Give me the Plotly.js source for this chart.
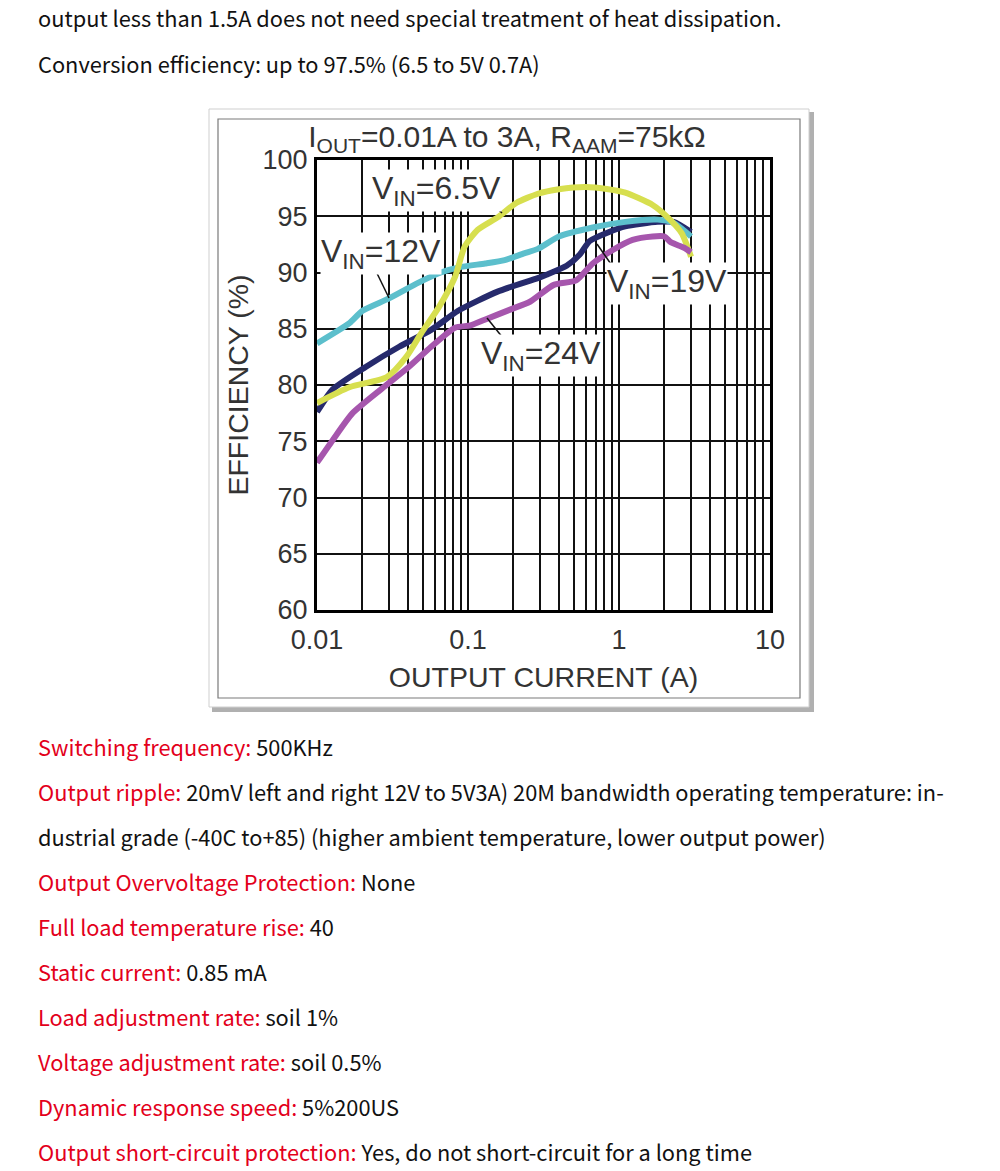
<!DOCTYPE html>
<html>
<head>
<meta charset="utf-8">
<script src="https://cdn.plot.ly/plotly-3.0.1.min.js"></script>
<style>
  html, body { margin: 0; padding: 0; background: #fff; }
  #chart { width: 1000px; height: 1171px; }
</style>
</head>
<body>
<div id="chart"></div>
<script>
// ---------- data ----------
const current65 = [0.01, 0.0164, 0.029, 0.039, 0.049, 0.064, 0.082, 0.095, 0.116, 0.157, 0.21, 0.29, 0.4, 0.6, 0.85, 1.1, 1.67, 2.1, 2.6, 3.0];
const eff65     = [78.4, 79.8, 80.7, 82.5, 84.6, 86.9, 89.6, 92.3, 93.8, 94.9, 96.2, 97.0, 97.4, 97.6, 97.4, 97.1, 96.0, 94.9, 93.5, 91.4];

const current12 = [0.01, 0.0164, 0.02, 0.03, 0.047, 0.066, 0.09, 0.13, 0.175, 0.235, 0.29, 0.4, 0.67, 1.1, 1.8, 2.3, 3.0];
const eff12     = [83.7, 85.5, 86.6, 87.7, 89.1, 90.0, 90.5, 90.8, 91.1, 91.7, 92.1, 93.2, 94.0, 94.5, 94.7, 94.4, 93.2];

const current19 = [0.01, 0.0127, 0.021, 0.035, 0.057, 0.086, 0.157, 0.29, 0.33, 0.45, 0.55, 0.64, 0.86, 1.1, 1.8, 2.3, 3.0];
const eff19     = [77.6, 79.6, 81.6, 83.4, 84.9, 86.6, 88.3, 89.5, 89.8, 90.6, 91.6, 92.8, 93.6, 94.1, 94.5, 94.5, 93.6];

const current24 = [0.01, 0.0127, 0.0172, 0.027, 0.0405, 0.057, 0.082, 0.104, 0.129, 0.19, 0.257, 0.37, 0.52, 0.67, 0.91, 1.23, 1.67, 2.0, 2.2, 2.7, 3.0];
const eff24     = [73.1, 75.1, 77.5, 79.7, 81.6, 83.4, 85.1, 85.3, 85.8, 86.7, 87.4, 88.9, 89.3, 90.8, 92.0, 92.9, 93.2, 93.2, 92.7, 92.2, 91.8];

const seriesNames = ["V<sub>IN</sub>=6.5V", "V<sub>IN</sub>=12V", "V<sub>IN</sub>=19V", "V<sub>IN</sub>=24V"];
const xTickValues = [0.01, 0.1, 1, 10];
const xTickLabels = ["0.01", "0.1", "1", "10"];
const yTickLabels = ["60", "65", "70", "75", "80", "85", "90", "95", "100"];

const topLines = [
  "output less than 1.5A does not need special treatment of heat dissipation.",
  "Conversion efficiency: up to 97.5% (6.5 to 5V 0.7A)"
];
const specLabels = [
  "Switching frequency:",
  "Output ripple:",
  "",
  "Output Overvoltage Protection:",
  "Full load temperature rise:",
  "Static current:",
  "Load adjustment rate:",
  "Voltage adjustment rate:",
  "Dynamic response speed:",
  "Output short-circuit protection:"
];
const specValues = [
  "500KHz",
  "20mV left and right 12V to 5V3A) 20M bandwidth operating temperature: in-",
  "dustrial grade (-40C to+85) (higher ambient temperature, lower output power)",
  "None",
  "40",
  "0.85 mA",
  "soil 1%",
  "soil 0.5%",
  "5%200US",
  "Yes, do not short-circuit for a long time"
];

// ---------- geometry helpers ----------
const W = 1000, H = 1171;
const PL = 317, PR = 770, PT = 160, PB = 610;
const px2x = p => (p - PL) / (PR - PL);
const px2y = p => (PB - p) / (PB - PT);

const FONT = "Liberation Sans, Arial, sans-serif";
const TEXTFONT = "Noto Sans CJK JP, Noto Sans, sans-serif";
const RED = '#e3001b';

// minor grid values 2..9 in each decade
const minorVals = [];
[0.01, 0.1, 1].forEach(dec => { for (let m = 2; m <= 9; m++) minorVals.push(dec * m); });

// ---------- traces ----------
const lw = 6;
const traces = [
  {x: current19, y: eff19, color: '#262a6c'},
  {x: current12, y: eff12, color: '#5cbfcc'},
  {x: current65, y: eff65, color: '#d7df4f'},
  {x: current24, y: eff24, color: '#a656ad'}
].map(t => ({
  x: t.x, y: t.y, type: 'scatter', mode: 'lines',
  line: {color: t.color, width: lw, shape: 'spline', smoothing: 0.6},
  hoverinfo: 'skip', showlegend: false
}));

// ---------- shapes ----------
function box(x0, y0, x1, y1, fill, lc, lwd) {
  return {type: 'rect', xref: 'paper', yref: 'paper', layer: 'below',
    x0: px2x(x0), x1: px2x(x1), y0: px2y(y1), y1: px2y(y0),
    fillcolor: fill, line: {color: lc, width: lwd}};
}
function seg(x0, y0, x1, y1) {
  return {type: 'line', xref: 'paper', yref: 'paper', layer: 'above',
    x0: px2x(x0), x1: px2x(x1), y0: px2y(y0), y1: px2y(y1),
    line: {color: '#111', width: 1.5}};
}
const shapes = [
  box(212, 112, 814, 712, '#b0b0b0', 'rgba(0,0,0,0)', 0),
  box(209, 109, 809, 707, '#ffffff', '#cfcfcf', 1),
  box(218, 119, 800, 698, 'rgba(0,0,0,0)', '#7a7a7a', 1.2),
  seg(485, 197, 502, 213),
  seg(372, 263, 389, 298),
  seg(597, 244, 613, 267),
  seg(487, 318, 503, 338)
];

// ---------- annotations ----------
function label(text, cx, cy) {
  return {text: text, xref: 'paper', yref: 'paper', x: px2x(cx), y: px2y(cy),
    xanchor: 'center', yanchor: 'middle', showarrow: false,
    bgcolor: '#ffffff', borderpad: 0,
    font: {family: FONT, size: 32, color: '#333'}};
}
function textLine(cy, lbl, val) {
  const t = lbl ? '<span style="color:' + RED + '">' + lbl + '</span> ' + val : val;
  return {text: t, xref: 'paper', yref: 'paper', x: px2x(36), y: px2y(cy),
    xanchor: 'left', yanchor: 'middle', showarrow: false, align: 'left',
    font: {family: TEXTFONT, size: 21.8, color: '#111'}};
}
const annotations = [
  label(seriesNames[0], 436, 190),
  label(seriesNames[1], 381, 253),
  label(seriesNames[2], 667, 283),
  label(seriesNames[3], 541, 355),
  textLine(18, "", topLines[0]),
  textLine(63, "", topLines[1])
];
for (let i = 0; i < specLabels.length; i++) {
  annotations.push(textLine(746 + i * 45.1, specLabels[i], specValues[i]));
}

// ---------- axes ----------
const axisCommon = {
  showgrid: true, gridcolor: '#111', gridwidth: 2,
  showline: true, linecolor: '#000', linewidth: 3, mirror: true,
  zeroline: false, ticks: 'outside', tickcolor: 'rgba(0,0,0,0)',
  tickfont: {family: FONT, size: 27, color: '#333'},
  fixedrange: true, automargin: false
};

const layout = {
  width: W, height: H, autosize: false,
  margin: {l: PL, r: W - PR, t: PT, b: H - PB, pad: 0},
  paper_bgcolor: '#ffffff', plot_bgcolor: 'rgba(0,0,0,0)',
  title: {text: 'I<sub>OUT</sub>=0.01A to 3A, R<sub>AAM</sub>=75kΩ',
    xref: 'container', yref: 'container', x: 0.507, xanchor: 'center',
    y: 1 - 136 / H, yanchor: 'middle',
    font: {family: FONT, size: 30, color: '#333'}},
  xaxis: Object.assign({}, axisCommon, {
    type: 'log', range: [-2, 1], tickmode: 'array', tickvals: xTickValues, ticktext: xTickLabels, ticklen: 4,
    minor: {tickmode: 'array', tickvals: minorVals, showgrid: true, gridcolor: '#111', gridwidth: 2, ticks: ''},
    title: {text: 'OUTPUT CURRENT (A)', font: {family: FONT, size: 28.5, color: '#333'}, standoff: 13}
  }),
  yaxis: Object.assign({}, axisCommon, {
    range: [60, 100], tickmode: 'array', tickvals: yTickLabels.map(Number), ticktext: yTickLabels, ticklen: 1,
    title: {text: 'EFFICIENCY (%)', font: {family: FONT, size: 28.5, color: '#333'}, standoff: 6}
  }),
  shapes: shapes,
  annotations: annotations
};

Plotly.newPlot('chart', traces, layout, {displayModeBar: false, staticPlot: true});
</script>
</body>
</html>
